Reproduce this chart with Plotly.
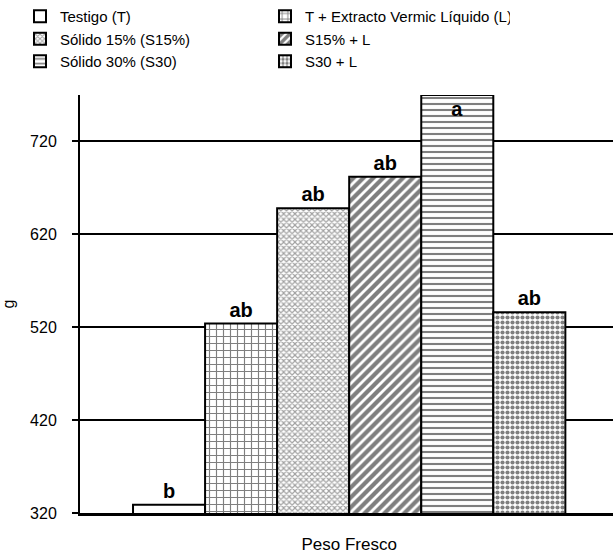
import plotly.graph_objects as go

category = ["Peso Fresco"]
series_names = ["Testigo (T)", "T + Extracto Vermic Líquido (L)", "Sólido 15% (S15%)",
                "S15% + L", "Sólido 30% (S30)", "S30 + L"]
values = [329, 524, 648, 682, 770, 536]
letters = ["b", "ab", "ab", "ab", "a", "ab"]
y_ticks = [320, 420, 520, 620, 720]

patterns = [
    dict(shape="", bgcolor="white"),
    dict(shape="+", fgcolor="black", bgcolor="white", size=7, solidity=0.3),
    dict(shape="x", fgcolor="#444444", bgcolor="white", size=4, solidity=0.5),
    dict(shape="/", fgcolor="black", bgcolor="white", size=7, solidity=0.6),
    dict(shape="-", fgcolor="black", bgcolor="white", size=6, solidity=0.35),
    dict(shape=".", fgcolor="black", bgcolor="white", size=5, solidity=0.55),
]

font_family = "Liberation Sans, Arial, sans-serif"

fig = go.Figure()
for i, name in enumerate(series_names):
    fig.add_trace(go.Bar(
        x=category, y=[values[i]], name=name,
        marker=dict(color="white", line=dict(color="black", width=2), pattern=patterns[i]),
        text=[letters[i]],
        textposition="inside" if i == 4 else "outside",
        insidetextanchor="end",
        textfont=dict(family=font_family, size=20, color="black", weight="bold"),
        cliponaxis=False,
    ))

fig.update_layout(
    width=613, height=556,
    margin=dict(l=80, r=0, t=95, b=43, autoexpand=False),
    paper_bgcolor="white", plot_bgcolor="white",
    barmode="group", bargap=0.197, bargroupgap=0,
    font=dict(family=font_family, size=16, color="black"),
    legend=dict(orientation="h", xref="container", x=20 / 613, xanchor="left",
                yref="container", y=1.0, yanchor="top",
                entrywidth=200, entrywidthmode="pixels",
                font=dict(size=15), itemwidth=30, tracegroupgap=0,
                traceorder="normal"),
    xaxis=dict(range=[-0.5, 0.49], showline=True, linecolor="black", linewidth=3,
               ticks="", ticklabelstandoff=14, tickfont=dict(size=17)),
    yaxis=dict(range=[320, 770], tickvals=y_ticks, showgrid=True, gridcolor="black",
               gridwidth=2, showline=True, linecolor="black", linewidth=2,
               ticks="outside", ticklen=6, tickwidth=2, tickcolor="black",
               ticklabelstandoff=12, zeroline=False,
               title=dict(text="g", standoff=24, font=dict(size=16))),
)

fig.write_html("out.html", config={"displayModeBar": False},
               post_script="document.body.style.margin='0';")
